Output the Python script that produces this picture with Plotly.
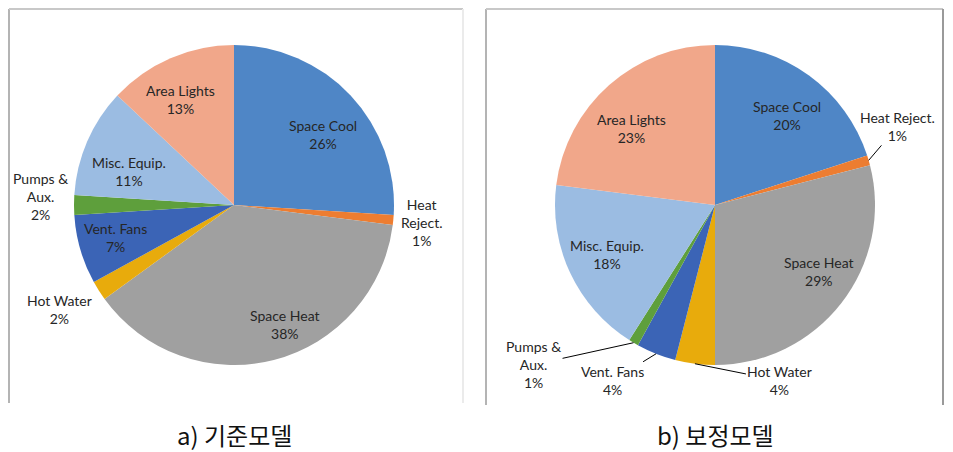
import math
import plotly.graph_objects as go

# ---- data ----
categories = ["Space Cool", "Heat Reject.", "Space Heat", "Hot Water",
              "Vent. Fans", "Pumps & Aux.", "Misc. Equip.", "Area Lights"]
base_values = [26, 1, 38, 2, 7, 2, 11, 13]        # a) 기준모델
calib_values = [20, 1, 29, 4, 4, 1, 18, 23]       # b) 보정모델
captions = ["a) 기준모델", "b) 보정모델"]

# label texts (line breaks as in the original)
base_label_names = ["Space Cool", "Heat<br>Reject.", "Space Heat", "Hot Water",
                    "Vent. Fans", "Pumps &<br>Aux.", "Misc. Equip.", "Area Lights"]
calib_label_names = ["Space Cool", "Heat Reject.", "Space Heat", "Hot Water",
                     "Vent. Fans", "Pumps &<br>Aux.", "Misc. Equip.", "Area Lights"]

# ---- styles ----
colors = ["#4F86C6", "#ED7D31", "#A0A0A0", "#E8AB0C",
          "#3B64B6", "#5E9F3C", "#9BBCE2", "#F1A78A"]
OFF = 8                     # page body margin
W, H = 953 - OFF, 452 - OFF
R = 160
centers = [(234, 205), (715, 205)]
font_fam = "Lato, 'Liberation Sans', Arial, sans-serif"
txt_col = "#262626"
fs = 14

# label placement styles: (radius factor, angle shift deg) or
# ('lead', text dx px, text dy px) for labels with leader lines
base_place = [(0.71, 5), (1.18, 0), (0.81, -8.6), (1.27, 1.4),
              (0.77, 0.7), (1.21, 2.4), (0.69, -6), (0.74, -3.6)]
calib_place = [(0.72, 2.7), ("lead", 29, -34), (0.77, -5.4), ("lead", 85, 17),
               ("lead", -44, 27), ("lead", -100, 22), (0.74, 0.6), (0.71, -6)]


def px(x, y):
    return (x - OFF) / W, 1 - (y - OFF) / H


fig = go.Figure()
annotations = []
shapes = []

for (cx, cy), vals, names, place in [
        (centers[0], base_values, base_label_names, base_place),
        (centers[1], calib_values, calib_label_names, calib_place)]:
    x0, y1 = px(cx - R, cy - R)
    x1, y0 = px(cx + R, cy + R)
    fig.add_trace(go.Pie(
        labels=categories, values=vals, sort=False, direction="clockwise",
        rotation=0, textinfo="none", showlegend=False,
        marker=dict(colors=colors, line=dict(width=0)),
        domain=dict(x=[x0, x1], y=[y0, y1]), hoverinfo="label+percent"))

    total = sum(vals)
    cum = 0
    for v, name, pl in zip(vals, names, place):
        mid = (cum + v / 2) / total * 360
        cum += v
        pct = round(v / total * 100)
        text = f"{name}<br>{pct}%"
        if pl[0] == "lead":
            a = math.radians(mid)
            tx, ty = cx + R * math.sin(a), cy - R * math.cos(a)
            X, Y = px(tx, ty)
            annotations.append(dict(
                x=X, y=Y, xref="paper", yref="paper", text=text,
                showarrow=True, arrowhead=0, arrowwidth=1, arrowcolor="#000000",
                ax=pl[1], ay=pl[2], standoff=0, startstandoff=0,
                font=dict(family=font_fam, size=fs, color=txt_col)))
        else:
            f, dth = pl
            a = math.radians(mid + dth)
            tx, ty = cx + f * R * math.sin(a), cy - f * R * math.cos(a)
            X, Y = px(tx, ty)
            annotations.append(dict(
                x=X, y=Y, xref="paper", yref="paper", text=text,
                showarrow=False, xanchor="center", yanchor="middle",
                font=dict(family=font_fam, size=fs, color=txt_col)))

# captions
for (cx, _), cap in zip(centers, captions):
    X, Y = px(cx, 434)
    annotations.append(dict(
        x=X, y=Y, xref="paper", yref="paper", text=cap, showarrow=False,
        xanchor="center", yanchor="middle",
        font=dict(family="'Noto Sans CJK KR', sans-serif", size=24, color="#111111")))

# chart frames (edges that would fall in the page margin are kept just inside)
E = OFF + 1
for (xa, ya, xb, yb, col) in [(E, E, E, 403, "#B4B4B4"), (E, E, 463, E, "#C8C8C8"),
                              (463, E, 463, 403, "#EBEBEB"),
                              (486, E, 486, 405, "#B4B4B4"), (486, E, 943, E, "#C8C8C8"),
                              (943, E, 943, 405, "#9A9A9A")]:
    X0, Y0 = px(xa, ya)
    X1, Y1 = px(xb, yb)
    shapes.append(dict(type="line", xref="paper", yref="paper",
                       x0=X0, y0=Y0, x1=X1, y1=Y1,
                       line=dict(color=col, width=2)))

fig.update_layout(
    width=W, height=H, margin=dict(l=0, r=0, t=0, b=0),
    paper_bgcolor="white", plot_bgcolor="white",
    annotations=annotations, shapes=shapes)

fig.write_html("out.html")
